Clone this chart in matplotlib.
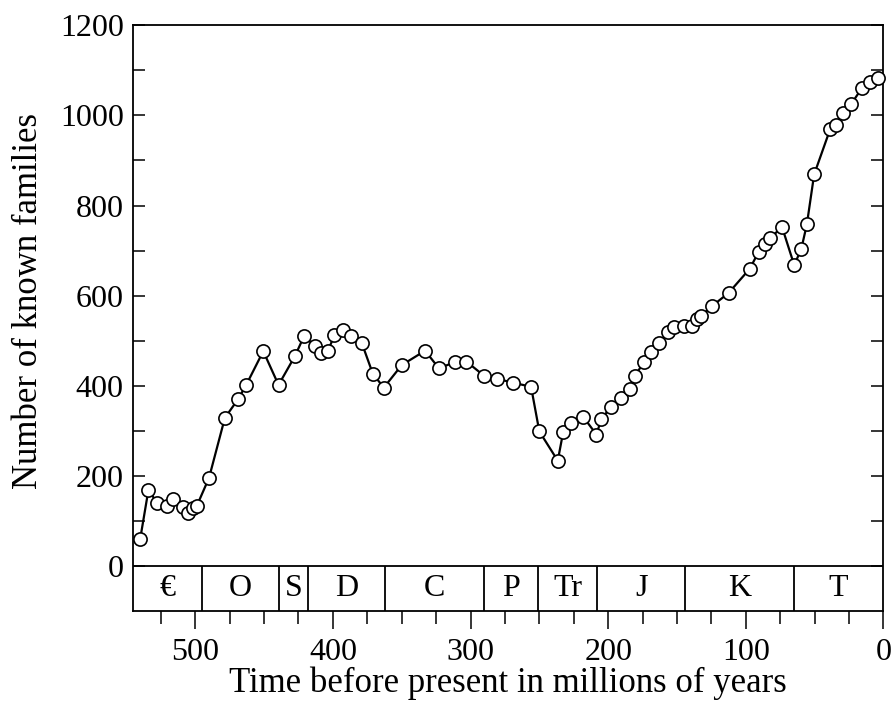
import numpy as np
import matplotlib.pyplot as plt
from matplotlib.ticker import FixedLocator

plt.rcParams['font.family'] = ['Liberation Serif', 'DejaVu Serif']

# time before present (My) and number of known families
age = [540, 534, 527.8, 520.5, 516, 509, 505.5, 502, 499, 490,
       478.5, 469, 463, 450.6, 439.5, 427.6, 421, 413, 409, 403.5,
       399, 393, 386.5, 379, 371, 363, 350, 333, 323, 311,
       303, 290, 281, 269, 256, 250, 236.6, 232.7, 227, 218,
       208.5, 205, 198, 191, 184, 180.7, 174, 169, 163, 156.6,
       152.4, 145, 139, 135.4, 132.3, 124.5, 112.5, 97, 90.7, 85.8,
       82.2, 73.7, 64.8, 59.7, 55.6, 50.3, 38.7, 34.3, 29.5, 23.4,
       15.7, 9.7, 3.6]
families = [61, 170, 140, 134, 149, 132, 119, 129, 133, 196,
            329, 370, 402, 477, 402, 466, 510, 489, 472, 478,
            512, 525, 510, 495, 427, 396, 446, 478, 439, 453,
            454, 422, 416, 407, 398, 299, 234, 297, 318, 331,
            292, 326, 353, 374, 394, 421, 453, 475, 494, 519,
            531, 532, 532, 549, 555, 577, 606, 660, 697, 714,
            727, 753, 668, 703, 758, 869, 969, 978, 1006, 1025,
            1060, 1074, 1083]

# geological periods
periods = ['\u20ac', 'O', 'S', 'D', 'C', 'P', 'Tr', 'J', 'K', 'T']
bounds = [545, 495, 439, 418, 362, 290, 251, 208, 144, 65, 0]

fig = plt.figure(figsize=(8.95, 7.2), dpi=100)
ax = fig.add_axes([0.149, 0.151, 0.838, 0.814])

ax.plot(age, families, '-', color='black', lw=1.6, marker='o', ms=9.5,
        mfc='white', mec='black', mew=1.2, clip_on=False, zorder=3)

# period strip below zero
ax.axhline(0, color='black', lw=1.3)
ax.vlines(bounds[1:-1], -100, 0, color='black', lw=1.3)
for i, name in enumerate(periods):
    mid = (bounds[i] + bounds[i + 1]) / 2.0
    ax.text(mid, -50, name, ha='center', va='center', fontsize=23)

ax.set_xlim(545, 0)
ax.set_ylim(-100, 1200)

ax.set_yticks(range(0, 1201, 200))
ax.yaxis.set_minor_locator(FixedLocator(range(100, 1200, 200)))
ax.set_xticks(range(500, -1, -100))
ax.xaxis.set_minor_locator(FixedLocator([525, 475, 450, 425, 375, 350, 325,
                                         275, 250, 225, 175, 150, 125,
                                         75, 50, 25]))

ax.tick_params(axis='y', which='both', direction='in', left=True, right=True,
               length=8.5, width=1.1, labelsize=23, pad=7)
ax.tick_params(axis='x', which='major', direction='out', length=13, width=1.1,
               labelsize=23, pad=6)
ax.tick_params(axis='x', which='minor', direction='out', length=9, width=1.1)

for s in ax.spines.values():
    s.set_linewidth(1.3)

ax.set_xlabel('Time before present in millions of years', fontsize=25, labelpad=0)
ax.set_ylabel('Number of known families', fontsize=25)
ax.yaxis.set_label_coords(-0.118, 0.53)

fig.savefig('out.png', dpi=100)
